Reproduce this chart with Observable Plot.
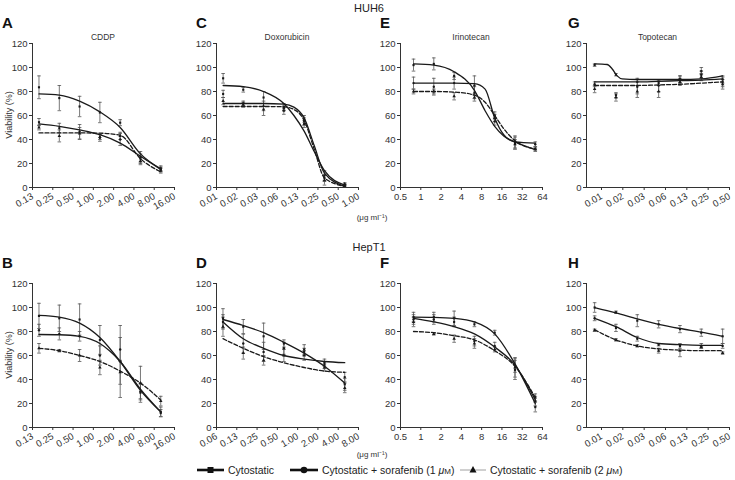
<!DOCTYPE html>
<html><head><meta charset="utf-8">
<script src="https://cdn.jsdelivr.net/npm/d3@7"></script>
<script src="https://cdn.jsdelivr.net/npm/@observablehq/plot@0.6"></script>
<style>
body{margin:0;background:#fff;}
#root{position:relative;width:735px;height:480px;overflow:hidden;font-family:"Liberation Sans",Arial,Helvetica,sans-serif;}
#root > figure, #root > svg{position:absolute;margin:0;}
</style></head><body><div id="root"></div>
<script>
// ---------- data ----------
const seriesNames = ["Cytostatic", "Cytostatic + sorafenib (1 μM)", "Cytostatic + sorafenib (2 μM)"];

// concentrations (µg/ml)
const concCDDP = [0.156, 0.3125, 0.625, 1.25, 2.5, 5, 10];
const concDoxoHUH6 = [0.0098, 0.0195, 0.039, 0.078, 0.156, 0.3125, 0.625];
const concDoxoHepT1 = [0.078, 0.156, 0.3125, 0.625, 1.25, 2.5, 5];
const concIrino = [0.78, 1.56, 3.125, 6.25, 12.5, 25, 50];
const concTopo = [0.00625, 0.0125, 0.025, 0.05, 0.1, 0.2, 0.4];

// tick values and labels
const ticksCDDP = [0.125, 0.25, 0.5, 1, 2, 4, 8, 16];
const labelsCDDP = ["0.13", "0.25", "0.50", "1.00", "2.00", "4.00", "8.00", "16.00"];
const ticksDoxoHUH6 = [1/128, 1/64, 1/32, 1/16, 1/8, 1/4, 1/2, 1];
const labelsDoxoHUH6 = ["0.01", "0.02", "0.03", "0.06", "0.13", "0.25", "0.50", "1.00"];
const ticksDoxoHepT1 = [1/16, 1/8, 1/4, 1/2, 1, 2, 4, 8];
const labelsDoxoHepT1 = ["0.06", "0.13", "0.25", "0.50", "1.00", "2.00", "4.00", "8.00"];
const ticksIrino = [0.5, 1, 2, 4, 8, 16, 32, 64];
const labelsIrino = ["0.5", "1", "2", "4", "8", "16", "32", "64"];
const ticksTopo = [1/128, 1/64, 1/32, 1/16, 1/8, 1/4, 1/2];
const labelsTopo = ["0.01", "0.02", "0.03", "0.06", "0.13", "0.25", "0.50"];
const ticksViability = [0, 20, 40, 60, 80, 100, 120];

// Panel A  HUH6 CDDP
const aMean0 = [83.5, 74.5, 67.5, 62.5, 54, 25.5, 16];
const aErr0  = [9.5, 10.5, 8.5, 8.5, 2.5, 4.5, 2];
const aMean1 = [54.5, 49.5, 46.5, 41.5, 40, 24, 15];
const aErr1  = [3, 4, 6, 3, 5, 4, 2];
const aMean2 = [50, 43, 45, 42, 43, 22, 14];
const aErr2  = [2, 5, 5, 2, 3, 3, 2];
const aCurveX = [0.156, 0.3125, 0.625, 1.25, 2.5, 5, 10];
const aCurve0 = [78, 77, 72, 63, 50, 28, 15.5];
const aCurve1 = [53, 51, 48, 44, 37, 26, 15];
const aCurve2 = [45.5, 45.5, 45.5, 45.3, 43.5, 24, 13];

// Panel C  HUH6 Doxorubicin
const cMean0 = [91, 81.5, 75, 64, 56, 10, 2];
const cErr0  = [4, 2, 5, 3, 4, 4, 1];
const cMean1 = [78, 70, 65, 67, 53, 8, 1];
const cErr1  = [3, 2, 5, 3, 3, 3, 1];
const cMean2 = [72, 69, 68, 66, 55, 6, 3];
const cErr2  = [3, 2, 4, 2, 3, 4, 1];
const cCurveX = [0.0098, 0.0195, 0.039, 0.078, 0.11, 0.156, 0.22, 0.3125, 0.625];
const cCurve0 = [85, 84, 80, 70, 60, 47, 30, 14, 2];
const cCurve1 = [70, 70, 70, 69.5, 67, 58, 35, 12, 1];
const cCurve2 = [67.5, 67.5, 67.5, 67.3, 65, 56, 32, 8, 1];

// Panel E  HUH6 Irinotecan
const eMean0 = [102, 103, 93, 79, 55, 37, 32];
const eErr0  = [5, 5, 3, 5, 3, 5, 1];
const eMean1 = [87, 84, 87, 85, 60, 38, 36];
const eErr1  = [5, 7, 5, 8, 3, 5, 2];
const eMean2 = [80, 80, 76, 75, 58, 36, 32];
const eErr2  = [2, 2, 3, 3, 3, 4, 2];
const eCurveX = [0.78, 1.56, 3.125, 6.25, 9, 12.5, 17, 25, 50];
const eCurve0 = [103, 102, 96.5, 81, 64, 51, 43, 38, 31.5];
const eCurve1 = [87, 87, 87, 86.5, 82, 58, 44, 38, 37];
const eCurve2 = [80, 80, 79.5, 77, 71, 60, 49, 39, 32];

// Panel G  HUH6 Topotecan
const gMean0 = [102, 94, 88, 87, 90, 97, 90];
const gErr0  = [1, 1, 3, 2, 3, 3, 3];
const gMean1 = [86, 77, 84, 85, 90, 94, 88];
const gErr1  = [2, 2, 6, 5, 3, 3, 4];
const gMean2 = [82, 75, 80, 80, 88, 92, 86];
const gErr2  = [3, 3, 5, 5, 3, 3, 4];
const gCurveX = [0.00625, 0.0094, 0.011, 0.013, 0.0153, 0.025, 0.05, 0.1, 0.2, 0.4];
const gCurve0 = [103, 102.5, 99, 93, 90.5, 90, 90, 90, 90.5, 93];
const gCurve1 = [88, 88, 88, 88, 88, 88, 88.5, 89, 89.5, 90.5];
const gCurve2 = [85, 85, 85, 85, 85, 85, 85.5, 86, 87, 88];

// Panel B  HepT1 CDDP
const bMean0 = [93, 91, 90, 73, 55, 29, 13];
const bErr0  = [10.5, 11, 13, 12, 30, 8, 4];
const bMean1 = [81, 78, 76, 60, 65, 30, 12];
const bErr1  = [5, 5, 4, 8, 10, 6, 3];
const bMean2 = [66, 64, 60, 50, 46, 37, 22];
const bErr2  = [4, 1, 5, 6, 10, 14, 4];
const bCurveX = [0.156, 0.3125, 0.625, 1.25, 2.5, 5, 10];
const bCurve0 = [93.5, 92, 87, 75, 55, 31, 13];
const bCurve1 = [77.5, 77.3, 76, 70, 55, 32, 13];
const bCurve2 = [66, 64, 60, 55, 47, 37, 23];

// Panel D  HepT1 Doxorubicin
const dMean0 = [91, 84, 76, 70, 65, 52, 36];
const dErr0  = [8, 6, 11, 3, 4, 3, 5];
const dMean1 = [88, 70, 63, 66, 63, 54, 42];
const dErr1  = [6, 8, 8, 5, 3, 3, 4];
const dMean2 = [84, 62, 56, 60, 60, 50, 33];
const dErr2  = [8, 5, 4, 5, 4, 3, 4];
const dCurveX = [0.078, 0.156, 0.3125, 0.625, 1.25, 2.5, 5];
const dCurve0 = [90, 85, 79, 71, 62, 51, 37];
const dCurve1 = [88, 74, 66, 60, 57, 55, 54];
const dCurve2 = [74, 66, 59, 54, 50, 47, 46];

// Panel F  HepT1 Irinotecan
const fMean0 = [92, 92, 91, 86, 79, 48, 17];
const fErr0  = [4, 4, 6, 2, 2, 8, 4];
const fMean1 = [90, 90, 88, 72, 68, 52, 22];
const fErr1  = [4, 4, 4, 4, 3, 6, 4];
const fMean2 = [88, 78, 74, 70, 65, 50, 25];
const fErr2  = [4, 1, 3, 4, 2, 8, 3];
const fCurveX = [0.78, 1.56, 3.125, 6.25, 12.5, 25, 50];
const fCurve0 = [92, 91.8, 91, 88, 78, 53, 20];
const fCurve1 = [91, 88, 84, 78, 67, 52, 23];
const fCurve2 = [80, 79, 76.5, 73, 64, 51, 25];

// Panel H  HepT1 Topotecan
const hMean0 = [100, 96, 89, 86, 82, 79, 76];
const hErr0  = [4, 1, 5, 3, 3, 3, 6];
const hMean1 = [91, 83, 74, 69, 68, 68, 68];
const hErr1  = [2, 3, 2, 1, 2, 2, 2];
const hMean2 = [81, 73, 68, 64, 64, 67, 62];
const hErr2  = [1, 1, 1, 2, 5, 1, 1];
const hCurveX = [0.00625, 0.0125, 0.025, 0.05, 0.1, 0.2, 0.4];
const hCurve0 = [100, 95.5, 90.5, 86, 82.5, 79.5, 76];
const hCurve1 = [91, 84, 75, 70, 69, 68.5, 68.5];
const hCurve2 = [81.5, 73, 68, 65.5, 64.5, 64, 64];

// ---------- drawing ----------
const root = document.getElementById("root");
const FONT = '"Liberation Sans", Arial, Helvetica, sans-serif';
const INK = "#1a1a1a", AXIS = "#333", BAR = "#555";
const capSymbol = {draw(ctx, size) { const w = Math.sqrt(size / Math.PI); ctx.moveTo(-w, 0); ctx.lineTo(w, 0); }};
const markerSymbols = ["square", "circle", "triangle"];

function panel(p) {
  const mL = 30, mR = 8, mT = 6, mB = 36;
  const width = (p.x1 - p.x0) + mL + mR;
  const height = (p.yb - p.yt) + mT + mB;
  const rows = [], crow = [];
  for (let s = 0; s < 3; s++) {
    p.conc.forEach((c, i) => rows.push({c, m: p.means[s][i], e: p.errs[s][i], s}));
    p.curveX.forEach((c, j) => crow.push({c, v: p.curves[s][j], s}));
  }
  const marks = [
    Plot.ruleX(rows, {x: "c", y1: d => d.m - d.e, y2: d => d.m + d.e, stroke: BAR, strokeWidth: 0.8}),
    Plot.dot(rows, {x: "c", y: d => d.m + d.e, symbol: capSymbol, r: 1.8, stroke: BAR, strokeWidth: 0.8, fill: "none"}),
    Plot.dot(rows, {x: "c", y: d => d.m - d.e, symbol: capSymbol, r: 1.8, stroke: BAR, strokeWidth: 0.8, fill: "none"}),
    Plot.line(crow.filter(d => d.s < 2), {x: "c", y: "v", z: "s", curve: "monotone-x", stroke: INK, strokeWidth: 1.3}),
    Plot.line(crow.filter(d => d.s === 2), {x: "c", y: "v", curve: "monotone-x", stroke: INK, strokeWidth: 1.3, strokeDasharray: "4,2"})
  ];
  for (let s = 0; s < 3; s++) {
    marks.push(Plot.dot(rows.filter(d => d.s === s), {x: "c", y: "m", symbol: markerSymbols[s], r: s === 2 ? 1.3 : 1.2, fill: INK, stroke: "none"}));
  }
  marks.push(
    Plot.ruleY([0], {stroke: AXIS, strokeWidth: 1}),
    Plot.ruleX([p.domain[0]], {stroke: AXIS, strokeWidth: 1}),
    Plot.axisX(p.ticks, {tickFormat: d => p.labels[p.ticks.indexOf(d)], tickRotate: p.rotate, tickSize: 3, tickPadding: p.rotate ? 5 : 3, fontSize: 9.5, stroke: AXIS, fill: "#333", label: null}),
    Plot.axisY(ticksViability, {tickSize: 3, tickPadding: 2, fontSize: 9.5, stroke: AXIS, fill: "#333", label: null})
  );
  const chart = Plot.plot({
    width, height, marginLeft: mL, marginRight: mR, marginTop: mT, marginBottom: mB,
    style: {fontFamily: FONT, background: "transparent", overflow: "visible"},
    x: {type: "log", base: 2, domain: p.domain, label: null},
    y: {domain: [0, 120], label: null},
    marks
  });
  chart.style.position = "absolute";
  chart.style.left = (p.x0 - mL) + "px";
  chart.style.top = (p.yt - mT) + "px";
  root.appendChild(chart);
}

const cols = [{x0: 32, x1: 174}, {x0: 216, x1: 358}, {x0: 400, x1: 542}, {x0: 586, x1: 729}];
const rowsY = [{yt: 43, yb: 187}, {yt: 283, yb: 427}];

panel({...cols[0], ...rowsY[0], domain: [0.125, 16], ticks: ticksCDDP, labels: labelsCDDP, rotate: -30, conc: concCDDP,
  curveX: aCurveX, means: [aMean0, aMean1, aMean2], errs: [aErr0, aErr1, aErr2], curves: [aCurve0, aCurve1, aCurve2]});
panel({...cols[1], ...rowsY[0], domain: [1/128, 1], ticks: ticksDoxoHUH6, labels: labelsDoxoHUH6, rotate: -30, conc: concDoxoHUH6,
  curveX: cCurveX, means: [cMean0, cMean1, cMean2], errs: [cErr0, cErr1, cErr2], curves: [cCurve0, cCurve1, cCurve2]});
panel({...cols[2], ...rowsY[0], domain: [0.5, 64], ticks: ticksIrino, labels: labelsIrino, rotate: 0, conc: concIrino,
  curveX: eCurveX, means: [eMean0, eMean1, eMean2], errs: [eErr0, eErr1, eErr2], curves: [eCurve0, eCurve1, eCurve2]});
panel({...cols[3], ...rowsY[0], domain: [0.0048, 0.5], ticks: ticksTopo, labels: labelsTopo, rotate: -30, conc: concTopo,
  curveX: gCurveX, means: [gMean0, gMean1, gMean2], errs: [gErr0, gErr1, gErr2], curves: [gCurve0, gCurve1, gCurve2]});
panel({...cols[0], ...rowsY[1], domain: [0.125, 16], ticks: ticksCDDP, labels: labelsCDDP, rotate: -30, conc: concCDDP,
  curveX: bCurveX, means: [bMean0, bMean1, bMean2], errs: [bErr0, bErr1, bErr2], curves: [bCurve0, bCurve1, bCurve2]});
panel({...cols[1], ...rowsY[1], domain: [1/16, 8], ticks: ticksDoxoHepT1, labels: labelsDoxoHepT1, rotate: -30, conc: concDoxoHepT1,
  curveX: dCurveX, means: [dMean0, dMean1, dMean2], errs: [dErr0, dErr1, dErr2], curves: [dCurve0, dCurve1, dCurve2]});
panel({...cols[2], ...rowsY[1], domain: [0.5, 64], ticks: ticksIrino, labels: labelsIrino, rotate: 0, conc: concIrino,
  curveX: fCurveX, means: [fMean0, fMean1, fMean2], errs: [fErr0, fErr1, fErr2], curves: [fCurve0, fCurve1, fCurve2]});
panel({...cols[3], ...rowsY[1], domain: [0.0048, 0.5], ticks: ticksTopo, labels: labelsTopo, rotate: -30, conc: concTopo,
  curveX: hCurveX, means: [hMean0, hMean1, hMean2], errs: [hErr0, hErr1, hErr2], curves: [hCurve0, hCurve1, hCurve2]});

// ---------- annotation overlay ----------
const svg = d3.select(root).append("svg").attr("width", 735).attr("height", 480)
  .style("position", "absolute").style("left", 0).style("top", 0).style("pointer-events", "none")
  .style("font-family", FONT);
const txt = (x, y, s, size, opts = {}) => svg.append("text").attr("x", x).attr("y", y).text(s)
  .attr("font-size", size).attr("fill", opts.fill || "#222").attr("text-anchor", opts.anchor || "start")
  .attr("font-weight", opts.bold ? "bold" : null);

txt(369, 12, "HUH6", 11, {anchor: "middle"});
txt(369, 251, "HepT1", 11, {anchor: "middle"});
const letters = [["A", 2, 28], ["C", 196, 28], ["E", 380, 28], ["G", 568, 28], ["B", 2, 268], ["D", 196, 268], ["F", 380, 268], ["H", 568, 268]];
letters.forEach(([l, x, y]) => txt(x, y, l, 15, {bold: true, fill: "#111"}));
const titles = ["CDDP", "Doxorubicin", "Irinotecan", "Topotecan"];
titles.forEach((t, i) => txt((cols[i].x0 + cols[i].x1) / 2, 40, t, 8.5, {anchor: "middle", fill: "#333"}));
[115, 355].forEach(cy => svg.append("text").attr("transform", `translate(12,${cy}) rotate(-90)`)
  .attr("text-anchor", "middle").attr("font-size", 9).attr("fill", "#333").text("Viability (%)"));
[220, 457].forEach(y => txt(372, y, "(μg ml⁻¹)", 8, {anchor: "middle", fill: "#333"}));

// legend
const ly = 470;
const legend = [
  {x: 197, w: 27, sw: 2.6, stroke: "#111", sym: "square"},
  {x: 290, w: 28, sw: 2.6, stroke: "#111", sym: "circle"},
  {x: 460, w: 26, sw: 0.8, stroke: "#888", sym: "triangle"}
];
legend.forEach((L, i) => {
  svg.append("line").attr("x1", L.x).attr("x2", L.x + L.w).attr("y1", ly).attr("y2", ly).attr("stroke", L.stroke).attr("stroke-width", L.sw);
  const cx = L.x + L.w / 2;
  if (L.sym === "square") svg.append("rect").attr("x", cx - 3).attr("y", ly - 3).attr("width", 6).attr("height", 6).attr("fill", "#111");
  if (L.sym === "circle") svg.append("circle").attr("cx", cx).attr("cy", ly).attr("r", 3.3).attr("fill", "#111");
  if (L.sym === "triangle") svg.append("path").attr("d", `M${cx},${ly - 4}L${cx + 3.5},${ly + 2.5}L${cx - 3.5},${ly + 2.5}Z`).attr("fill", "#111");
  const t = svg.append("text").attr("x", L.x + L.w + 4).attr("y", ly + 3.5).attr("font-size", 10.5).attr("fill", "#222");
  if (i === 0) t.text(seriesNames[0]);
  else {
    const m = seriesNames[i].match(/^(.*\()(.*)μM\)$/);
    t.append("tspan").text(m[1] + m[2]);
    t.append("tspan").attr("font-style", "italic").text("μ");
    t.append("tspan").attr("font-size", 8).text("M");
    t.append("tspan").text(")");
  }
});
</script></body></html>
